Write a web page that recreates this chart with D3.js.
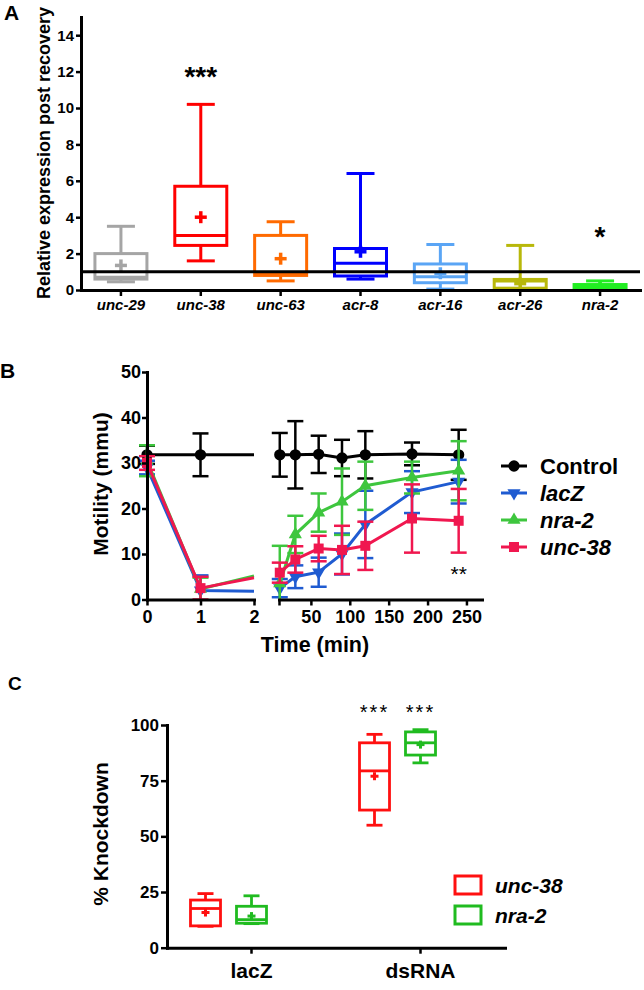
<!DOCTYPE html>
<html>
<head>
<meta charset="utf-8">
<script src="https://cdn.jsdelivr.net/npm/d3@7"></script>
<style>
body { margin: 0; background: #fff; }
</style>
</head>
<body>
<svg id="fig"></svg>
<script>
"use strict";

const FONT = "'Liberation Sans', Arial, Helvetica, sans-serif";

// ---- Panel A: relative expression post recovery (box plots) ----
const genesA = ["unc-29", "unc-38", "unc-63", "acr-8", "acr-16", "acr-26", "nra-2"];
const colorsA = ["#a5a5a5", "#ff0000", "#ff6a00", "#0000ff", "#5aa5f5", "#b8b80a", "#22ee22"];
const minA = [0.45, 1.6, 0.5, 0.6, 0.05, 0.05, 0.05];
const q1A = [0.6, 2.45, 0.8, 0.77, 0.4, 0.1, 0.1];
const medA = [0.7, 3.0, 0.85, 1.47, 0.73, 0.5, 0.2];
const q3A = [2.0, 5.7, 3.0, 2.28, 1.43, 0.58, 0.3];
const maxA = [3.5, 10.2, 3.75, 6.4, 2.5, 2.45, 0.5];
const meanA = [1.35, 4.0, 1.72, 2.1, 0.92, 0.35, 0.22];
const ticksA = [0, 2, 4, 6, 8, 10, 12, 14];
const refLineA = 1;

// ---- Panel B: motility time course ----
const seriesB = ["Control", "lacZ", "nra-2", "unc-38"];
const colorsB = ["#000000", "#1f5bd1", "#3ec63e", "#f0174f"];
const earlyTimes = [0, 1];
const controlEarly = [31.8, 31.8];
const controlEarlyErr = [2.0, 4.7];
const lacZEarly = [29.0, 2.0];
const lacZEarlyErr = [1.5, 3.3];
const nra2Early = [30.5, 2.3];
const nra2EarlyErr = [3.4, 2.5];
const unc38Early = [30.0, 2.5];
const unc38EarlyErr = [1.5, 2.5];
// where each line meets the axis break at t = 2
const breakEdge = [31.8, 1.8, 5.2, 4.8];

const lateTimes = [10, 30, 60, 90, 120, 180, 240];
const controlLate = [31.8, 31.8, 31.9, 31.1, 31.8, 32.0, 31.8];
const controlLateErr = [4.8, 7.4, 4.1, 4.0, 5.2, 2.5, 5.5];
const lacZLate = [2.5, 5.0, 6.0, 10.0, 16.5, 23.6, 25.9];
const lacZLateErr = [2.0, 2.5, 3.2, 4.5, 7.4, 4.6, 4.8];
const nra2Late = [3.5, 14.3, 19.1, 21.5, 25.0, 26.8, 28.3];
const nra2LateErr = [8.3, 4.1, 4.2, 7.3, 5.3, 3.5, 6.5];
const unc38Late = [5.9, 8.8, 11.2, 10.9, 11.8, 17.8, 17.3];
const unc38LateErr = [2.2, 2.9, 2.8, 5.3, 5.3, 7.5, 7.0];
const ticksBy = [0, 10, 20, 30, 40, 50];
const ticksBx1 = [0, 1, 2];
const ticksBx2 = [50, 100, 150, 200, 250];

// ---- Panel C: % knockdown (box plots), indexed [gene][group] ----
const groupsC = ["lacZ", "dsRNA"];
const genesC = ["unc-38", "nra-2"];
const colorsC = ["#ff1010", "#20bb20"];
const minC = [[9.6, 55.0], [10.8, 83.0]];
const q1C = [[9.8, 61.8], [11.0, 86.5]];
const medC = [[17.6, 79.4], [12.6, 92.0]];
const q3C = [[21.4, 92.0], [18.6, 96.9]];
const maxC = [[24.3, 95.8], [23.3, 97.9]];
const meanC = [[15.8, 77.0], [14.2, 91.2]];
const ticksC = [0, 25, 50, 75, 100];

const W = 644, H = 990;
const svg = d3.select("#fig").attr("width", W).attr("height", H)
    .style("font-family", FONT);
svg.append("rect").attr("width", W).attr("height", H).attr("fill", "white");

function styleAxis(g, fontSize, italic) {
    g.attr("font-family", FONT).attr("font-size", fontSize);
    g.select(".domain").attr("stroke-width", 3).attr("stroke-linecap", "square");
    g.selectAll(".tick line").attr("stroke-width", 2.5);
    g.selectAll(".tick text")
        .attr("font-weight", "bold")
        .attr("font-style", italic ? "italic" : "normal")
        .attr("fill", "#000");
}

function addText(x, y, str, size, opts) {
    opts = opts || {};
    const t = svg.append("text")
        .attr("x", x).attr("y", y)
        .attr("font-size", size)
        .attr("font-weight", opts.weight || "bold")
        .attr("font-style", opts.italic ? "italic" : "normal")
        .attr("text-anchor", opts.anchor || "start")
        .attr("fill", "#000")
        .text(str);
    if (opts.rotate) t.attr("transform", "rotate(-90," + x + "," + y + ")");
    if (opts.spacing) t.attr("letter-spacing", opts.spacing);
    return t;
}

// draws one box with whiskers, median and a "+" for the mean
function drawBox(g, cx, y, s, color, o) {
    const hw = o.boxW / 2, cw = o.capW / 2;
    function seg(x1, y1, x2, y2, sw) {
        g.append("line")
            .attr("x1", x1).attr("y1", y1).attr("x2", x2).attr("y2", y2)
            .attr("stroke", color).attr("stroke-width", sw || o.sw)
            .attr("stroke-linecap", "butt");
    }
    seg(cx, y(s.max), cx, y(s.q3));
    seg(cx, y(s.q1), cx, y(s.min));
    seg(cx - cw, y(s.max), cx + cw, y(s.max));
    seg(cx - cw, y(s.min), cx + cw, y(s.min));
    g.append("rect")
        .attr("x", cx - hw).attr("y", y(s.q3))
        .attr("width", o.boxW).attr("height", Math.max(0.5, y(s.q1) - y(s.q3)))
        .attr("fill", "none").attr("stroke", color).attr("stroke-width", o.sw);
    seg(cx - hw, y(s.med), cx + hw, y(s.med));
    const p = o.plus / 2;
    seg(cx - p, y(s.mean), cx + p, y(s.mean), o.plusW);
    seg(cx, y(s.mean) - p, cx, y(s.mean) + p, o.plusW);
}

// ================= Panel A =================
const xA = d3.scaleBand().domain(genesA).range([81, 640]);
const yA = d3.scaleLinear().domain([0, 15]).range([290, 17]);

const gA = svg.append("g");
genesA.forEach(function (gene, i) {
    drawBox(gA, xA(gene) + xA.bandwidth() / 2, yA,
        {min: minA[i], q1: q1A[i], med: medA[i], q3: q3A[i], max: maxA[i], mean: meanA[i]},
        colorsA[i], {boxW: 52, capW: 28, sw: 3, plus: 12, plusW: 3.5});
});

// reference line at 1
svg.append("line")
    .attr("x1", 81).attr("x2", 640)
    .attr("y1", yA(refLineA)).attr("y2", yA(refLineA))
    .attr("stroke", "#000").attr("stroke-width", 3);

svg.append("g").attr("transform", "translate(81,0)")
    .call(d3.axisLeft(yA).tickValues(ticksA).tickSize(5).tickSizeOuter(0).tickPadding(2))
    .call(function (g) { styleAxis(g, 15, false); });
svg.append("g").attr("transform", "translate(0,290)")
    .call(d3.axisBottom(xA).tickSize(6).tickSizeOuter(0).tickPadding(3))
    .call(function (g) { styleAxis(g, 15, true); });

addText(50, 153, "Relative expression post recovery", 18, {anchor: "middle", rotate: true});
addText(4, 20, "A", 21);
addText(xA("unc-38") + xA.bandwidth() / 2, 86, "***", 28, {anchor: "middle"});
addText(xA("nra-2") + xA.bandwidth() / 2, 246, "*", 28, {anchor: "middle"});

// ================= Panel B =================
const yB = d3.scaleLinear().domain([0, 50]).range([599.5, 372]);
const xB1 = d3.scaleLinear().domain([0, 2]).range([147, 254]);
const xB2 = d3.scaleLinear().domain([9, 270]).range([279, 482]);

const earlyB = [controlEarly, lacZEarly, nra2Early, unc38Early];
const earlyErrB = [controlEarlyErr, lacZEarlyErr, nra2EarlyErr, unc38EarlyErr];
const lateB = [controlLate, lacZLate, nra2Late, unc38Late];
const lateErrB = [controlLateErr, lacZLateErr, nra2LateErr, unc38LateErr];

const markerB = [
    d3.symbol(d3.symbolCircle, 100),
    d3.symbol(d3.symbolTriangle, 75),
    d3.symbol(d3.symbolTriangle, 75),
    d3.symbol(d3.symbolSquare, 100)
];
const markerRot = [0, 180, 0, 0];

const lineB = d3.line().x(function (d) { return d[0]; }).y(function (d) { return d[1]; });

function errorBar(g, x, v, e, color) {
    const top = Math.min(50, v + e), bot = Math.max(0, v - e);
    g.append("line").attr("x1", x).attr("x2", x)
        .attr("y1", yB(top)).attr("y2", yB(bot))
        .attr("stroke", color).attr("stroke-width", 2.5);
    [v + e, v - e].forEach(function (c) {
        if (c < 0 || c > 50) return;
        g.append("line").attr("x1", x - 8).attr("x2", x + 8)
            .attr("y1", yB(c)).attr("y2", yB(c))
            .attr("stroke", color).attr("stroke-width", 2.5);
    });
}

const gB = svg.append("g");
seriesB.forEach(function (name, k) {
    const col = colorsB[k];
    const g = gB.append("g");
    earlyTimes.forEach(function (t, i) { errorBar(g, xB1(t), earlyB[k][i], earlyErrB[k][i], col); });
    lateTimes.forEach(function (t, i) { errorBar(g, xB2(t), lateB[k][i], lateErrB[k][i], col); });

    const pts1 = earlyTimes.map(function (t, i) { return [xB1(t), yB(earlyB[k][i])]; });
    pts1.push([xB1(2), yB(breakEdge[k])]);
    const pts2 = lateTimes.map(function (t, i) { return [xB2(t), yB(lateB[k][i])]; });
    [pts1, pts2].forEach(function (pts) {
        g.append("path").attr("d", lineB(pts))
            .attr("fill", "none").attr("stroke", col).attr("stroke-width", 3);
    });

    const markPts = pts1.slice(0, earlyTimes.length).concat(pts2);
    g.selectAll("path.mk").data(markPts).enter().append("path")
        .attr("class", "mk")
        .attr("d", markerB[k])
        .attr("transform", function (d) { return "translate(" + d[0] + "," + d[1] + ") rotate(" + markerRot[k] + ")"; })
        .attr("fill", col);
});

svg.append("g").attr("transform", "translate(147,0)")
    .call(d3.axisLeft(yB).tickValues(ticksBy).tickSize(5).tickSizeOuter(0).tickPadding(1))
    .call(function (g) { styleAxis(g, 18, false); });
svg.append("g").attr("transform", "translate(0,599.5)")
    .call(d3.axisBottom(xB1).tickValues(ticksBx1).tickFormat(d3.format("d")).tickSize(6).tickSizeOuter(0).tickPadding(5))
    .call(function (g) { styleAxis(g, 18, false); });
svg.append("g").attr("transform", "translate(0,599.5)")
    .call(d3.axisBottom(xB2).tickValues([xB2.domain()[0]].concat(ticksBx2))
        .tickFormat(function (d) { return ticksBx2.indexOf(d) >= 0 ? d : ""; })
        .tickSize(6).tickSizeOuter(0).tickPadding(5))
    .call(function (g) { styleAxis(g, 18, false); });

addText(108, 484, "Motility (mmu)", 21, {anchor: "middle", rotate: true});
addText(315, 652, "Time (min)", 21.5, {anchor: "middle"});
addText(0, 378, "B", 21);
addText(xB2(240), 581, "**", 21, {anchor: "middle", weight: "normal"});

// legend B
const legendRowsB = [466, 493, 520, 547];
seriesB.forEach(function (name, k) {
    const y = legendRowsB[k];
    svg.append("line").attr("x1", 501).attr("x2", 527).attr("y1", y).attr("y2", y)
        .attr("stroke", colorsB[k]).attr("stroke-width", 3);
    svg.append("path").attr("d", markerB[k])
        .attr("transform", "translate(514," + y + ") rotate(" + markerRot[k] + ")")
        .attr("fill", colorsB[k]);
    addText(540, y + 8, name, 22, {italic: k > 0});
});

// ================= Panel C =================
const xC = d3.scaleBand().domain(groupsC).range([167, 505]);
const yC = d3.scaleLinear().domain([0, 100]).range([947.7, 725]);
const subC = d3.scalePoint().domain(genesC).range([-46, 0]);

const gC = svg.append("g");
genesC.forEach(function (gene, gi) {
    groupsC.forEach(function (grp, j) {
        const cx = xC(grp) + xC.bandwidth() / 2 + subC(gene);
        drawBox(gC, cx, yC,
            {min: minC[gi][j], q1: q1C[gi][j], med: medC[gi][j], q3: q3C[gi][j], max: maxC[gi][j], mean: meanC[gi][j]},
            colorsC[gi], {boxW: 30, capW: 16, sw: 2.8, plus: 8, plusW: 3});
    });
    // significance over the dsRNA boxes
    addText(xC("dsRNA") + xC.bandwidth() / 2 + subC(gene), 719, "***", 20,
        {anchor: "middle", weight: "normal", spacing: 2});
});

svg.append("g").attr("transform", "translate(167,0)")
    .call(d3.axisLeft(yC).tickValues(ticksC).tickSize(6).tickSizeOuter(0).tickPadding(2))
    .call(function (g) { styleAxis(g, 17, false); });
svg.append("g").attr("transform", "translate(0,947.7)")
    .call(d3.axisBottom(xC).tickSize(6).tickSizeOuter(0).tickPadding(9))
    .call(function (g) { styleAxis(g, 21, false); });

addText(108, 834, "% Knockdown", 21, {anchor: "middle", rotate: true});
addText(8, 690, "C", 19);

// legend C
const legendRowsC = [885, 915];
genesC.forEach(function (gene, gi) {
    const y = legendRowsC[gi];
    svg.append("rect").attr("x", 455).attr("y", y - 9).attr("width", 26).attr("height", 18)
        .attr("fill", "none").attr("stroke", colorsC[gi]).attr("stroke-width", 3);
    addText(495, y + 7.5, gene, 21, {italic: true});
});
</script>
</body>
</html>
